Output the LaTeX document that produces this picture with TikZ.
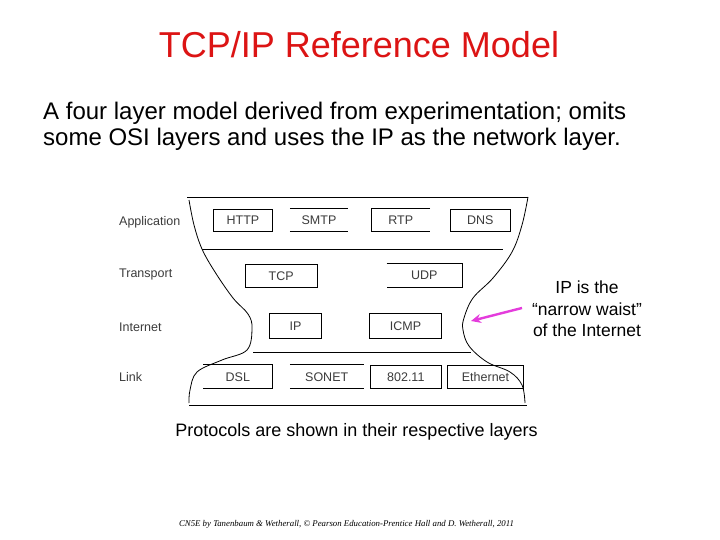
\documentclass[tikz,border=0pt]{standalone}
\usepackage{fontspec}
\setmainfont{Liberation Sans}
\newfontfamily\footfont{Liberation Serif}
\usetikzlibrary{arrows.meta}
\definecolor{titlered}{RGB}{220,20,20}
\definecolor{pink}{RGB}{228,60,220}
\definecolor{labgray}{RGB}{60,60,60}
\begin{document}
\begin{tikzpicture}[x=1pt,y=-1pt,
  proto/.style={inner sep=0pt, font=\fontsize{12.5}{14}\selectfont, text=labgray},
  pbox/.style={proto, draw, line width=0.8pt},
  layerlab/.style={anchor=west, inner sep=0pt, font=\fontsize{12.5}{14}\selectfont, text=labgray},
  outline/.style={line width=0.8pt},
  txt/.style={inner sep=0pt}]
\useasboundingbox (0,0) rectangle (720,540);
\fill[white] (0,0) rectangle (720,540);

% title and intro
\node[txt, text=titlered, font=\fontsize{36}{42}\selectfont] (title) at (359,45) {TCP/IP Reference Model};
\node[txt, anchor=west, align=left, font=\fontsize{24}{26}\selectfont] (intro) at (43,126)
  {A four layer model derived from experimentation; omits\\some OSI layers and uses the IP as the network layer.};

% outline of the hourglass
\draw[outline] (187,197) -- (528,197);
\draw[outline] (189,405) -- (527,405);
\draw[outline] plot[smooth, tension=0.6] coordinates {(189,200) (194,225) (202,249) (215,272) (233,298) (248,314) (252,328) (247,350) (222,360) (197,372) (190,390) (189,403)};
\draw[outline] plot[smooth, tension=0.6] coordinates {(528,197) (522,225) (512,252) (493,278) (473,298) (464,318) (463,330) (469,346) (487,362) (510,372) (522,385) (525,403)};
\draw[outline] (202,249) -- (503,249);
\draw[outline] (253,352) -- (471,352);

% layer labels
\node[layerlab] (lapp) at (119,222) {Application};
\node[layerlab] (ltra) at (119,274) {Transport};
\node[layerlab] (lint) at (119,327) {Internet};
\node[layerlab] (llin) at (119,377) {Link};

% application layer
\node[pbox, minimum width=59.4pt, minimum height=22pt] (http) at (243,220) {HTTP};
\node[proto, minimum width=58pt, minimum height=22pt] (smtp) at (319,220) {SMTP};
\draw[line width=0.8pt] (smtp.north west) -- (smtp.north east) (smtp.south west) -- (smtp.south east);
\node[proto, minimum width=58.3pt, minimum height=22pt] (rtp) at (400.8,220) {RTP};
\draw[line width=0.8pt] (rtp.north east) -- (rtp.north west) -- (rtp.south west) -- (rtp.south east);
\node[pbox, minimum width=59.3pt, minimum height=22pt] (dns) at (480.3,220) {DNS};

% transport layer
\node[pbox, minimum width=72.3pt, minimum height=23.3pt] (tcp) at (281.2,275.7) {TCP};
\node[proto, minimum width=75pt, minimum height=23.3pt] (udp) at (424.2,275.7) {UDP};
\draw[line width=0.8pt] (udp.north west) -- (udp.north east) -- (udp.south east) -- (udp.south west);

% internet layer
\node[pbox, minimum width=52.4pt, minimum height=24.3pt] (ip) at (295.5,325.8) {IP};
\node[pbox, minimum width=72.4pt, minimum height=24.3pt] (icmp) at (405.5,325.8) {ICMP};

% link layer
\node[proto, minimum width=69pt, minimum height=23.3pt] (dsl) at (237.8,376.7) {DSL};
\draw[line width=0.8pt] (dsl.north west) -- (dsl.north east) -- (dsl.south east) -- (dsl.south west);
\node[proto, minimum width=73.3pt, minimum height=23.3pt] (sonet) at (326.7,376.7) {SONET};
\draw[line width=0.8pt] (sonet.north west) -- (sonet.north east) (sonet.south west) -- (sonet.south east);
\node[pbox, minimum width=71.7pt, minimum height=23.3pt] (wifi) at (405.8,376.7) {802.11};
\node[pbox, minimum width=75.6pt, minimum height=23.3pt] (eth) at (485.5,376.7) {Ethernet};

% narrow waist remark
\node[txt, align=center, font=\fontsize{17.5}{21.5}\selectfont] (waist) at (587,309)
  {IP is the\\``narrow waist''\\of the Internet};
\coordinate (tail) at (522,308);
\coordinate (tip) at (471,321);
\draw[pink, line width=2.4pt, -{Stealth[length=10pt,width=9pt]}] (tail) -- (tip);

% caption and footer
\node[txt, font=\fontsize{18}{21}\selectfont] (caption) at (356.5,432) {Protocols are shown in their respective layers};
\node[txt, font=\footfont\itshape\fontsize{8.8}{10}\selectfont] (foot) at (346.5,524)
  {CN5E by Tanenbaum \& Wetherall, \textcopyright{} Pearson Education-Prentice Hall and D. Wetherall, 2011};
\end{tikzpicture}
\end{document}
